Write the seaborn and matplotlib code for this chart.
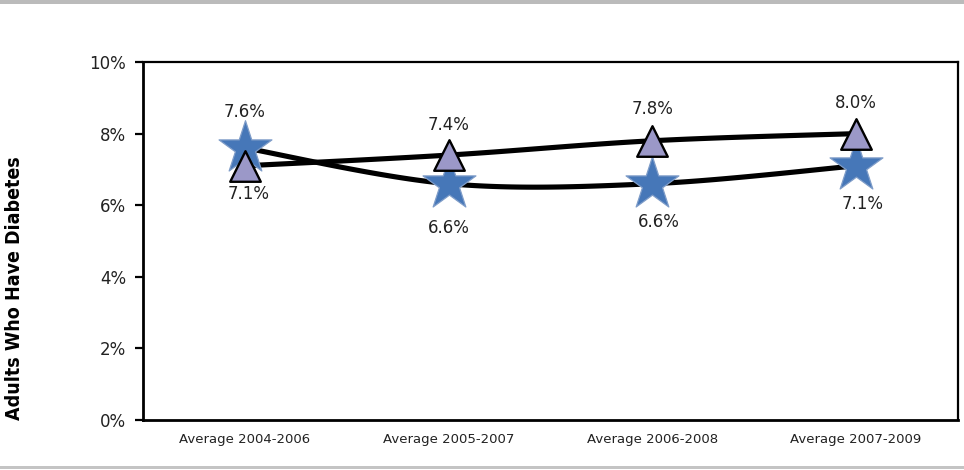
import numpy as np
import pandas as pd
import matplotlib
matplotlib.use("Agg")
import matplotlib.pyplot as plt
from matplotlib.patches import Rectangle
from matplotlib import font_manager
import seaborn as sns

# Data
periods = ["Average 2004-2006", "Average 2005-2007", "Average 2006-2008", "Average 2007-2009"]
star_values = [7.6, 6.6, 6.6, 7.1]
triangle_values = [7.1, 7.4, 7.8, 8.0]
y_ticks = [0, 2, 4, 6, 8, 10]

sns.set_theme(style="white")
plt.rcParams["font.family"] = ["DejaVu Sans"]

installed = {f.name for f in font_manager.fontManager.ttflist}
narrow_family = "Liberation Sans Narrow" if "Liberation Sans Narrow" in installed else "DejaVu Sans"

fig = plt.figure(figsize=(9.64, 4.70), dpi=100)
ax = fig.add_axes([143 / 964, 1 - 420 / 470, (958 - 143) / 964, (420 - 62) / 470])

x = np.arange(len(periods), dtype=float)


def smooth(xs, ys, n=40):
    """Catmull-Rom style smoothing through every point."""
    xs = np.asarray(xs, float)
    ys = np.asarray(ys, float)
    px = np.concatenate([[xs[0]], xs, [xs[-1]]])
    py = np.concatenate([[ys[0]], ys, [ys[-1]]])
    out_x, out_y = [], []
    for i in range(1, len(px) - 2):
        p0 = np.array([px[i - 1], py[i - 1]])
        p1 = np.array([px[i], py[i]])
        p2 = np.array([px[i + 1], py[i + 1]])
        p3 = np.array([px[i + 2], py[i + 2]])
        c1 = p1 + (p2 - p0) / 6.0
        c2 = p2 - (p3 - p1) / 6.0
        t = np.linspace(0, 1, n)[:, None]
        pts = ((1 - t) ** 3) * p1 + 3 * ((1 - t) ** 2) * t * c1 + 3 * (1 - t) * t ** 2 * c2 + t ** 3 * p2
        out_x.extend(pts[:, 0])
        out_y.extend(pts[:, 1])
    return np.array(out_x), np.array(out_y)


for vals in (star_values, triangle_values):
    sx, sy = smooth(x, vals)
    curve = pd.DataFrame({"x": sx, "y": sy})
    sns.lineplot(data=curve, x="x", y="y", sort=False, estimator=None,
                 color="black", linewidth=3.7, ax=ax, zorder=2)

df_star = pd.DataFrame({"x": x, "y": star_values})
df_tri = pd.DataFrame({"x": x, "y": triangle_values})

sns.scatterplot(data=df_star, x="x", y="y", marker="*", s=40 ** 2,
                color="#4677B8", edgecolor="#7E9CC8", linewidth=0.9, ax=ax, zorder=3)
sns.scatterplot(data=df_tri, x="x", y="y", marker="^", s=22 ** 2,
                color="#9B98C8", edgecolor="black", linewidth=1.7, ax=ax, zorder=4)

# Value labels
label_kw = dict(fontsize=12, color="#222222", ha="center", va="center", zorder=5)
star_offsets = [(0, 1.0), (0, -1.25), (0.03, -1.08), (0.03, -1.08)]
tri_offsets = [(0.02, -0.8), (0, 0.85), (0, 0.88), (0, 0.85)]
for xi, v, (dx, dy) in zip(x, star_values, star_offsets):
    ax.text(xi + dx, v + dy, f"{v:.1f}%", **label_kw)
for xi, v, (dx, dy) in zip(x, triangle_values, tri_offsets):
    ax.text(xi + dx, v + dy, f"{v:.1f}%", **label_kw)

# Axes styling
ax.set_xlim(-0.5, 3.5)
ax.set_ylim(0, 10)
ax.set_yticks(y_ticks)
ax.set_yticklabels([f"{t}%" for t in y_ticks], fontsize=12, color="#222222")
ax.set_xticks(x)
ax.set_xticklabels(periods, fontsize=9.5, color="#222222", family="DejaVu Sans")
ax.set_xticks(np.arange(-0.5, 4.0, 1.0), minor=True)
ax.tick_params(axis="x", which="major", length=0, pad=9)
ax.tick_params(axis="x", which="minor", length=5, width=2, color="black", direction="out")
ax.tick_params(axis="y", which="major", length=6, width=1.6, color="black", direction="out", left=True, pad=6)
ax.set_xlabel("")
ax.set_ylabel("")
for name, sp in ax.spines.items():
    sp.set_color("black")
    sp.set_linewidth(2.0 if name in ("left", "bottom") else 1.6)
ax.grid(False)

fig.text(15 / 964, 1 - 288 / 470, "Adults Who Have Diabetes", rotation=90,
         ha="center", va="center",
         fontsize=16.5 if narrow_family != "DejaVu Sans" else 14,
         fontweight="bold", fontstretch="condensed",
         family=[narrow_family, "DejaVu Sans"], color="black")

# Decorative rules at top and bottom
fig.patches.append(Rectangle((0, 1 - 4 / 470), 1, 4 / 470, transform=fig.transFigure,
                             facecolor="#BBBBBB", edgecolor="none"))
fig.patches.append(Rectangle((0, 1 - 469 / 470), 1, 3 / 470, transform=fig.transFigure,
                             facecolor="#C4C4C4", edgecolor="none"))

fig.savefig("out.png", dpi=100)
